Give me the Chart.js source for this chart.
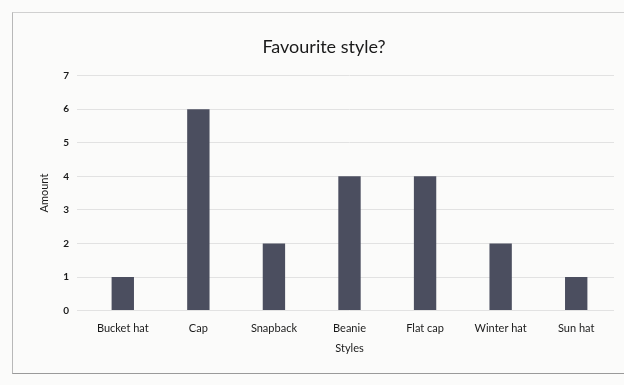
<!DOCTYPE html>
<html>
<head>
<meta charset="utf-8">
<script src="https://cdn.jsdelivr.net/npm/chart.js@4"></script>
<style>
  body { margin: 0; background: #fbfbfa; }
  #wrap { position: absolute; left: 0; top: 0; width: 624px; height: 385px; }
  #frame { position: absolute; left: 12px; top: 12px; width: 640px; height: 360px;
           border-left: 1px solid #b8b8b8; border-top: 1px solid #d0d0d0; border-bottom: 1px solid #9a9a9a; }
</style>
</head>
<body>
<div id="frame"></div>
<div id="wrap"><canvas id="styleChart" width="624" height="385"></canvas></div>
<script>
// Favourite style chart
const styles = ['Bucket hat', 'Cap', 'Snapback', 'Beanie', 'Flat cap', 'Winter hat', 'Sun hat'];
const amounts = [1, 6, 2, 4, 4, 2, 1];
const yTicks = [0, 1, 2, 3, 4, 5, 6, 7];

const ctx = document.getElementById('styleChart').getContext('2d');
const styleChart = new Chart(ctx, {
    type: 'bar',
    data: {
        labels: styles,
        datasets: [{
            label: 'Amount',
            data: amounts,
            backgroundColor: '#4b4e5f',
            borderWidth: 0,
            barPercentage: 0.37,
            categoryPercentage: 0.8
        }]
    },
    options: {
        responsive: false,
        animation: false,
        layout: { padding: { left: 34, right: 10, top: 36, bottom: 26 } },
        plugins: {
            legend: { display: false },
            title: {
                display: true,
                text: 'Favourite style?',
                color: '#1a1a1a',
                font: { family: 'Lato', size: 18, weight: 'normal' },
                padding: { top: 0, bottom: 18 }
            }
        },
        scales: {
            x: {
                grid: { display: false },
                border: { display: false },
                ticks: { color: '#1a1a1a', font: { family: 'Lato', size: 11 }, maxRotation: 0 },
                title: { display: true, text: 'Styles', color: '#1a1a1a', font: { family: 'Lato', size: 11 }, padding: { top: 4 } }
            },
            y: {
                min: 0,
                max: 7,
                afterBuildTicks: axis => { axis.ticks = yTicks.map(v => ({ value: v })); },
                grid: { color: '#e2e2e2' },
                border: { display: false },
                ticks: { color: '#1a1a1a', font: { family: 'Lato', size: 10, weight: 'bold' }, padding: 8 },
                title: { display: true, text: 'Amount', color: '#1a1a1a', font: { family: 'Lato', size: 11 } }
            }
        }
    }
});
</script>
</body>
</html>
